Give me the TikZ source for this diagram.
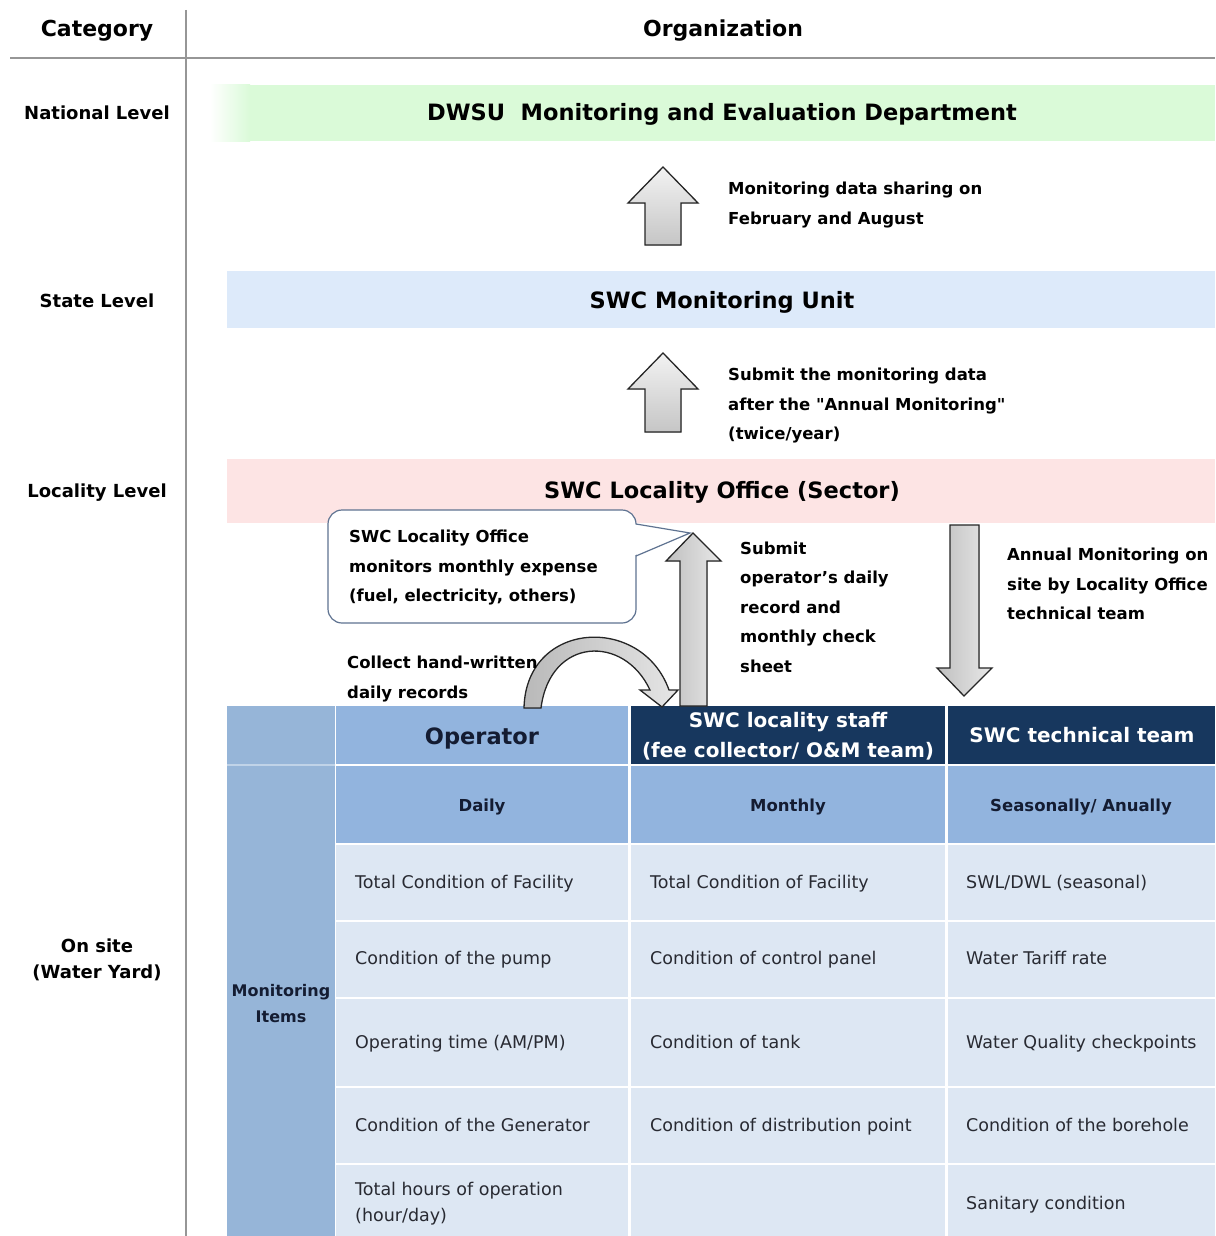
\documentclass[tikz,border=0pt]{standalone}
\usepackage{fontspec}
\setmainfont{DejaVu Sans}[Ligatures=TeXOff]
\definecolor{bandgreen}{RGB}{218,250,216}
\definecolor{bandblue}{RGB}{221,234,250}
\definecolor{bandpink}{RGB}{253,228,228}
\definecolor{hdrblue}{RGB}{146,180,222}
\definecolor{leftblue}{RGB}{150,181,216}
\definecolor{navy}{RGB}{23,55,94}
\definecolor{datablue}{RGB}{221,231,243}
\definecolor{gridline}{RGB}{150,150,150}
\definecolor{calloutcol}{RGB}{95,115,145}
\definecolor{inktext}{RGB}{20,28,50}
\definecolor{bodytext}{RGB}{40,42,50}
\newcommand{\blockshape}[6]{%
  \filldraw[blockarrow] (#1,#2) -- (#1+#6,#3) -- (#1+#5,#3) -- (#1+#5,#4) -- (#1-#5,#4) -- (#1-#5,#3) -- (#1-#6,#3) -- cycle;}
\begin{document}
\begin{tikzpicture}[x=1pt,y=-1pt,
  lvl/.style={font=\bfseries\fontsize{18}{26}\selectfont, align=center, inner sep=0pt},
  bandtitle/.style={font=\bfseries\fontsize{22.5}{27}\selectfont, inner sep=0pt},
  note/.style={font=\bfseries\fontsize{16.5}{29.5}\selectfont, align=left, anchor=west, inner sep=0pt},
  body/.style={font=\fontsize{17.5}{26}\selectfont, text=bodytext, align=left, anchor=base west, inner sep=0pt},
  freq/.style={font=\bfseries\fontsize{16.5}{20}\selectfont, text=inktext, inner sep=0pt, anchor=base},
  blockarrow/.style={draw=black!85, line width=1.3pt, line join=miter, top color=gray!10, bottom color=gray!45},
  longarrow/.style={draw=black!85, line width=1.3pt, line join=miter, left color=gray!50, right color=gray!18},
]
\useasboundingbox (0,0) rectangle (1215,1236);
\fill[white] (0,0) rectangle (1215,1236);

% grid lines
\draw[gridline, line width=2pt] (10,58) -- (1215,58);
\draw[gridline, line width=2pt] (186,10) -- (186,1236);
\node[font=\bfseries\fontsize{22}{26}\selectfont, inner sep=0pt, anchor=base] (cat) at (97,37) {Category};
\node[font=\bfseries\fontsize{22}{26}\selectfont, inner sep=0pt, anchor=base] (org) at (723,37) {Organization};

% bands
\shade[left color=white, right color=bandgreen] (210,85) rectangle (250,141);
\fill[bandgreen] (250,85) rectangle (1215,141);
\fill[bandblue] (227,271) rectangle (1215,328);
\fill[bandpink] (227,459) rectangle (1215,523);
\node[bandtitle, anchor=base] (dwsu) at (722,121) {DWSU\ \ Monitoring and Evaluation Department};
\node[bandtitle, anchor=base] (swcmu) at (722,308) {SWC Monitoring Unit};
\node[bandtitle, anchor=base] (swclo) at (722,498) {SWC Locality Office (Sector)};

% category labels
\node[lvl, anchor=base] (natl) at (97,120) {National Level};
\node[lvl, anchor=base] (state) at (97,307) {State Level};
\node[lvl, anchor=base] (local) at (97,497) {Locality Level};
\node[lvl] (onsite) at (97,960) {On site\\(Water Yard)};

% table
\fill[leftblue] (227,706) rectangle (335,1236);
\fill[hdrblue] (336,706) rectangle (628,764);
\fill[navy] (631,706) rectangle (945,764);
\fill[navy] (948,706) rectangle (1215,764);
\fill[hdrblue] (336,766) rectangle (628,843);
\fill[hdrblue] (631,766) rectangle (945,843);
\fill[hdrblue] (948,766) rectangle (1215,843);
\foreach \ya/\yb in {845/920, 922/997, 999/1086, 1088/1163, 1165/1236}{
  \fill[datablue] (336,\ya) rectangle (628,\yb);
  \fill[datablue] (631,\ya) rectangle (945,\yb);
  \fill[datablue] (948,\ya) rectangle (1215,\yb);
}
\fill[white!40!leftblue] (227,764) rectangle (335,766);

\node[font=\bfseries\fontsize{22.5}{27}\selectfont, text=inktext, inner sep=0pt, anchor=base] (oper) at (482,744) {Operator};
\node[font=\bfseries\fontsize{20}{30}\selectfont, text=white, align=center, inner sep=0pt] (staff) at (788,736) {SWC locality staff\\(fee collector/ O\&M team)};
\node[font=\bfseries\fontsize{20}{30}\selectfont, text=white, inner sep=0pt, anchor=base] (tech) at (1082,742) {SWC technical team};
\node[freq] (daily) at (482,811) {Daily};
\node[freq] (monthly) at (788,811) {Monthly};
\node[freq] (season) at (1081,811) {Seasonally/ Anually};
\node[font=\bfseries\fontsize{16}{26}\selectfont, text=inktext, align=center, inner sep=0pt] (items) at (281,1004) {Monitoring\\Items};

\node[body] (a1) at (355,888) {Total Condition of Facility};
\node[body] (a2) at (355,964) {Condition of the pump};
\node[body] (a3) at (355,1048) {Operating time (AM/PM)};
\node[body] (a4) at (355,1131) {Condition of the Generator};
\node[body, anchor=west] (a5) at (355,1204) {Total hours of operation\\(hour/day)};
\node[body] (b1) at (650,888) {Total Condition of Facility};
\node[body] (b2) at (650,964) {Condition of control panel};
\node[body] (b3) at (650,1048) {Condition of tank};
\node[body] (b4) at (650,1131) {Condition of distribution point};
\node[body] (c1) at (966,888) {SWL/DWL (seasonal)};
\node[body] (c2) at (966,964) {Water Tariff rate};
\node[body] (c3) at (966,1048) {Water Quality checkpoints};
\node[body] (c4) at (966,1131) {Condition of the borehole};
\node[body] (c5) at (966,1209) {Sanitary condition};

% block arrows between levels
\blockshape{663}{167}{203}{245}{18}{35}
\blockshape{663}{353}{389}{432}{18}{35}
\node[note] (n1) at (728,205) {Monitoring data sharing on\\February and August};
\node[note] (n2) at (728,406) {Submit the monitoring data\\after the "Annual Monitoring"\\(twice/year)};

% callout
\draw[calloutcol, line width=1.2pt, fill=white, rounded corners=14pt] (328,510) rectangle (636,623);
\fill[white] (633,524) -- (690,533) -- (633,556) -- cycle;
\draw[calloutcol, line width=1.2pt] (636,524) -- (690,533) -- (636,556);
\node[note] (call) at (349,568) {SWC Locality Office\\monitors monthly expense\\(fuel, electricity, others)};

% long up arrow and down arrow
\filldraw[longarrow] (693,533) -- (721,561) -- (707,561) -- (707,706) -- (680,706) -- (680,561) -- (666,561) -- cycle;
\filldraw[longarrow] (964,696) -- (992,668) -- (979,668) -- (979,525) -- (950,525) -- (950,668) -- (937,668) -- cycle;
\node[note] (n3) at (740,607) {Submit\\operator’s daily\\record and\\monthly check\\sheet};
\node[note] (n4) at (1007,584) {Annual Monitoring on\\site by Locality Office\\technical team};

% curved arrow
\filldraw[draw=black!85, line width=1.3pt, line join=miter, left color=gray!55, right color=gray!20]
  (524,708) .. controls (526,620) and (642,614) .. (669,690) -- (678,690) -- (662,707) -- (640,690) -- (650,690)
  .. controls (624,634) and (550,637) .. (541,708) -- cycle;
\node[note] (n5) at (347,679) {Collect hand-written\\daily records};
\end{tikzpicture}
\end{document}
